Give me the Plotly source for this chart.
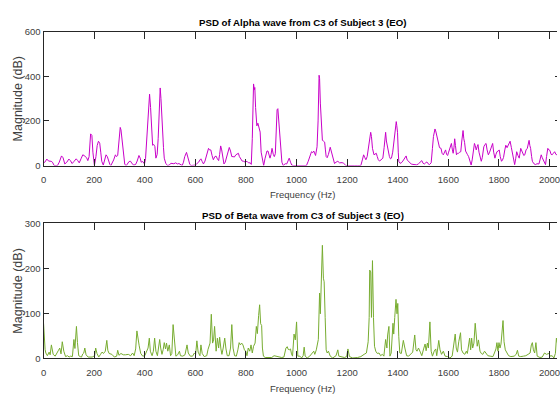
import plotly.graph_objects as go

# ---------------- data ----------------
alpha_freq = [0, 5, 13, 20, 30, 35, 42, 55, 62, 71, 77, 84, 92, 100, 106, 113, 120, 129, 135, 141, 148, 155, 160, 165, 170, 175, 180, 186, 189, 191, 195, 201, 207, 212, 217, 222, 226, 230, 236, 241, 247, 252, 257, 262, 266, 271, 277, 284, 288, 293, 298, 303, 306, 310, 314, 318, 321, 327, 333, 338, 344, 350, 357, 364, 370, 377, 382, 386, 392, 399, 403, 408, 413, 419, 423, 427, 431, 435, 440, 444, 449, 453, 457, 461, 464, 467, 470, 474, 477, 483, 490, 497, 503, 509, 515, 522, 529, 535, 542, 548, 553, 558, 565, 569, 574, 578, 583, 590, 600, 607, 613, 618, 622, 627, 632, 638, 643, 648, 652, 656, 661, 666, 671, 677, 682, 687, 692, 696, 700, 704, 708, 713, 718, 723, 729, 734, 739, 744, 749, 754, 760, 765, 770, 774, 779, 785, 791, 797, 804, 810, 817, 821, 825, 830, 833, 835, 838, 843, 847, 852, 856, 860, 865, 870, 875, 879, 883, 887, 891, 895, 899, 903, 908, 912, 916, 920, 923, 926, 930, 934, 938, 942, 947, 955, 961, 966, 971, 976, 981, 987, 1000, 1013, 1026, 1039, 1046, 1052, 1059, 1064, 1068, 1075, 1081, 1085, 1089, 1091, 1094, 1098, 1102, 1106, 1111, 1114, 1117, 1121, 1126, 1133, 1137, 1141, 1145, 1150, 1156, 1163, 1170, 1176, 1180, 1186, 1195, 1205, 1220, 1230, 1240, 1254, 1260, 1265, 1270, 1274, 1279, 1284, 1288, 1293, 1296, 1300, 1306, 1310, 1315, 1319, 1323, 1328, 1335, 1341, 1346, 1350, 1352, 1355, 1358, 1362, 1367, 1371, 1375, 1380, 1384, 1389, 1394, 1396, 1399, 1402, 1404, 1409, 1414, 1420, 1427, 1433, 1437, 1440, 1447, 1453, 1460, 1469, 1475, 1482, 1488, 1495, 1500, 1505, 1510, 1515, 1520, 1525, 1532, 1535, 1537, 1541, 1547, 1550, 1554, 1557, 1560, 1565, 1571, 1575, 1580, 1585, 1589, 1593, 1597, 1601, 1606, 1610, 1612, 1616, 1619, 1622, 1625, 1628, 1632, 1636, 1640, 1645, 1649, 1653, 1658, 1661, 1664, 1668, 1671, 1675, 1680, 1684, 1687, 1690, 1694, 1698, 1703, 1706, 1710, 1714, 1717, 1721, 1725, 1730, 1734, 1740, 1745, 1749, 1753, 1758, 1763, 1769, 1772, 1775, 1779, 1784, 1788, 1792, 1797, 1801, 1805, 1810, 1814, 1818, 1823, 1827, 1832, 1836, 1840, 1844, 1849, 1853, 1858, 1862, 1866, 1870, 1875, 1880, 1886, 1890, 1894, 1898, 1902, 1907, 1912, 1916, 1919, 1922, 1925, 1929, 1932, 1938, 1945, 1950, 1958, 1962, 1967, 1971, 1975, 1980, 1984, 1988, 1993, 1997, 2001, 2006, 2010, 2015, 2020, 2025, 2029]
alpha_mag = [12, 15, 29, 20, 19, 15, 0, 0, 15, 43, 35, 7, 15, 29, 22, 9, 18, 30, 22, 12, 30, 48, 45, 40, 35, 22, 40, 142, 138, 135, 60, 0, 40, 90, 109, 100, 60, 19, 2, 25, 48, 40, 20, 5, 0, 10, 25, 48, 40, 45, 110, 171, 160, 110, 70, 20, 5, 0, 10, 18, 19, 8, 2, 5, 20, 45, 33, 15, 18, 7, 30, 135, 230, 320, 260, 160, 91, 95, 85, 33, 50, 120, 250, 348, 300, 220, 150, 80, 33, 10, 0, 2, 10, 10, 8, 12, 7, 9, 3, 0, 15, 40, 59, 42, 20, 5, 0, 0, 2, 10, 15, 25, 30, 18, 7, 20, 40, 70, 77, 70, 70, 45, 26, 40, 42, 30, 22, 50, 88, 70, 40, 7, 15, 33, 60, 81, 65, 40, 40, 38, 48, 52, 55, 40, 30, 20, 19, 15, 19, 12, 12, 5, 120, 366, 340, 350, 260, 178, 190, 170, 150, 60, 30, 0, 30, 55, 65, 65, 45, 33, 50, 77, 50, 40, 53, 190, 250, 255, 200, 120, 50, 15, 0, 8, 7, 20, 33, 15, 2, 0, 0, 0, 0, 0, 19, 40, 62, 58, 65, 45, 84, 200, 405, 390, 280, 160, 113, 110, 105, 70, 40, 35, 50, 82, 65, 40, 20, 9, 15, 19, 12, 13, 13, 10, 0, 0, 2, 0, 0, 0, 25, 48, 35, 26, 40, 77, 110, 149, 130, 77, 48, 50, 55, 40, 26, 20, 25, 33, 80, 130, 149, 110, 91, 60, 40, 30, 33, 60, 104, 150, 197, 180, 149, 60, 19, 10, 12, 20, 30, 43, 25, 22, 12, 7, 5, 4, 3, 8, 15, 22, 10, 7, 12, 16, 8, 4, 12, 40, 77, 130, 164, 155, 135, 110, 91, 80, 77, 55, 48, 65, 70, 50, 45, 60, 77, 95, 99, 70, 55, 80, 120, 90, 48, 55, 55, 60, 62, 110, 157, 120, 104, 65, 55, 50, 40, 26, 10, 2, 25, 60, 99, 90, 70, 85, 94, 60, 40, 19, 35, 84, 95, 99, 70, 48, 60, 77, 90, 99, 60, 33, 50, 62, 65, 70, 40, 19, 25, 36, 70, 91, 80, 88, 100, 109, 80, 55, 20, 4, 30, 62, 45, 33, 77, 65, 50, 45, 48, 70, 77, 100, 113, 90, 77, 40, 19, 8, 4, 8, 7, 25, 48, 35, 26, 15, 4, 40, 77, 70, 68, 50, 48, 55, 62, 50, 48]

beta_freq = [0, 3, 6, 9, 15, 22, 26, 31, 35, 38, 46, 52, 59, 64, 69, 74, 77, 80, 87, 95, 101, 107, 114, 120, 124, 130, 134, 139, 145, 150, 155, 159, 163, 168, 176, 185, 192, 202, 206, 211, 218, 224, 231, 237, 244, 250, 254, 259, 264, 270, 280, 289, 293, 298, 306, 315, 324, 335, 344, 352, 358, 364, 369, 372, 374, 378, 384, 392, 400, 407, 413, 418, 422, 429, 434, 439, 444, 450, 455, 459, 463, 468, 473, 477, 482, 486, 491, 497, 502, 507, 512, 517, 523, 530, 537, 541, 550, 559, 567, 572, 580, 589, 596, 601, 606, 611, 618, 622, 627, 635, 645, 650, 654, 658, 663, 668, 672, 676, 682, 687, 692, 696, 701, 705, 710, 716, 721, 726, 733, 739, 744, 749, 755, 762, 768, 773, 778, 783, 788, 794, 799, 804, 809, 815, 820, 825, 830, 836, 841, 845, 850, 854, 858, 862, 865, 869, 876, 889, 902, 911, 919, 928, 941, 950, 958, 963, 967, 971, 976, 980, 984, 990, 995, 1000, 1005, 1013, 1020, 1026, 1030, 1034, 1042, 1052, 1061, 1068, 1072, 1078, 1086, 1091, 1094, 1098, 1102, 1106, 1109, 1113, 1117, 1121, 1126, 1133, 1143, 1156, 1163, 1167, 1176, 1189, 1198, 1203, 1209, 1222, 1241, 1254, 1267, 1276, 1283, 1287, 1289, 1293, 1296, 1300, 1304, 1308, 1313, 1319, 1326, 1332, 1339, 1345, 1352, 1357, 1360, 1365, 1369, 1374, 1381, 1384, 1388, 1393, 1397, 1400, 1404, 1408, 1414, 1422, 1428, 1435, 1443, 1451, 1459, 1467, 1472, 1476, 1482, 1489, 1495, 1502, 1508, 1512, 1517, 1521, 1527, 1532, 1537, 1544, 1550, 1554, 1562, 1567, 1573, 1580, 1587, 1597, 1606, 1615, 1623, 1627, 1631, 1636, 1641, 1648, 1652, 1658, 1665, 1671, 1675, 1680, 1684, 1688, 1692, 1696, 1701, 1706, 1710, 1714, 1719, 1725, 1730, 1736, 1743, 1749, 1756, 1765, 1776, 1782, 1788, 1792, 1796, 1800, 1804, 1808, 1813, 1816, 1820, 1825, 1832, 1838, 1847, 1860, 1868, 1873, 1878, 1886, 1897, 1906, 1915, 1923, 1928, 1932, 1936, 1941, 1946, 1951, 1962, 1971, 1980, 1988, 1997, 2003, 2010, 2017, 2023, 2027, 2030]
beta_mag = [78, 40, 20, 12, 6, 14, 8, 30, 15, 9, 5, 10, 18, 23, 10, 37, 25, 16, 4, 6, 3, 5, 4, 42, 22, 71, 35, 6, 4, 3, 10, 12, 23, 8, 3, 3, 3, 6, 23, 11, 3, 8, 14, 11, 16, 40, 18, 11, 10, 9, 3, 5, 18, 7, 11, 8, 8, 9, 6, 12, 6, 21, 61, 45, 41, 28, 11, 5, 6, 18, 23, 45, 16, 6, 16, 45, 16, 6, 23, 42, 23, 9, 20, 35, 21, 34, 16, 30, 6, 11, 75, 34, 5, 8, 16, 6, 5, 8, 30, 12, 5, 5, 12, 9, 39, 14, 6, 30, 11, 4, 6, 20, 30, 34, 98, 34, 41, 71, 16, 45, 23, 47, 21, 9, 23, 45, 21, 6, 6, 23, 75, 23, 6, 5, 19, 35, 30, 34, 30, 19, 16, 6, 23, 16, 30, 12, 27, 34, 71, 55, 95, 119, 77, 73, 23, 5, 2, 2, 2, 6, 5, 3, 2, 3, 23, 26, 20, 19, 21, 10, 5, 54, 41, 81, 5, 5, 1, 6, 25, 5, 1, 5, 11, 16, 9, 19, 42, 145, 99, 167, 251, 178, 170, 91, 19, 12, 16, 5, 1, 6, 19, 5, 4, 2, 4, 21, 4, 1, 2, 4, 9, 12, 37, 91, 196, 192, 91, 217, 91, 27, 16, 11, 12, 6, 9, 5, 42, 23, 52, 71, 5, 12, 78, 54, 91, 131, 99, 122, 48, 12, 11, 40, 23, 6, 5, 9, 14, 52, 19, 16, 23, 14, 6, 21, 32, 17, 34, 23, 81, 16, 5, 16, 21, 6, 40, 19, 9, 16, 5, 4, 1, 5, 34, 54, 23, 14, 37, 57, 19, 12, 9, 16, 11, 27, 45, 19, 45, 23, 34, 78, 45, 27, 41, 16, 11, 9, 16, 12, 6, 5, 4, 12, 21, 35, 16, 35, 23, 32, 66, 84, 37, 19, 12, 6, 4, 5, 9, 18, 5, 4, 5, 6, 9, 12, 30, 35, 19, 12, 35, 5, 2, 3, 12, 9, 11, 5, 6, 1, 11, 45, 35]

x_ticks = [0, 200, 400, 600, 800, 1000, 1200, 1400, 1600, 1800, 2000]
alpha_ticks = [0, 200, 400, 600]
beta_ticks = [0, 100, 200, 300]

title_alpha = "PSD of Alpha wave from C3 of Subject 3 (EO)"
title_beta = "PSD of Beta wave from C3 of Subject 3 (EO)"
x_label = "Frequency (Hz)"
y_label = "Magnitude (dB)"

# ---------------- figure ----------------
W, H = 560, 403
FONT = "Liberation Sans, Arial, Helvetica, sans-serif"
AX = "#262626"
TICKC = "#404040"

left = 41 / W
top_dom = [1 - 164 / H, 1 - 26.5 / H]
bot_dom = [1 - 362.3 / H, 1 - 223.3 / H]
x_end = (W - 41) / ((552.5 - 41) / 2000)

fig = go.Figure()
fig.add_trace(go.Scatter(x=alpha_freq, y=alpha_mag, mode="lines",
                         line=dict(color="#C800C8", width=1),
                         xaxis="x", yaxis="y", showlegend=False))
fig.add_trace(go.Scatter(x=beta_freq, y=beta_mag, mode="lines",
                         line=dict(color="#77AC30", width=1),
                         xaxis="x2", yaxis="y2", showlegend=False))
# placeholders so the right-side tick axes are drawn
fig.add_trace(go.Scatter(x=[], y=[], xaxis="x", yaxis="y3", showlegend=False, hoverinfo="skip"))
fig.add_trace(go.Scatter(x=[], y=[], xaxis="x2", yaxis="y4", showlegend=False, hoverinfo="skip"))

xcommon = dict(range=[0, x_end], tickvals=x_ticks, ticks="inside", ticklen=7,
               tickcolor=AX, showline=True, linecolor=AX, linewidth=1,
               mirror="ticks", showgrid=False, zeroline=False,
               ticklabelstandoff=5, ticklabeloverflow="allow",
               tickfont=dict(family=FONT, size=9.5, color=TICKC),
               domain=[left, 1])
ycommon = dict(ticks="inside", ticklen=5, tickcolor=AX, showline=True,
               linecolor=AX, linewidth=1, showgrid=False, zeroline=False,
               tickfont=dict(family=FONT, size=9.5, color=TICKC))

fig.update_layout(
    width=W, height=H,
    margin=dict(l=0, r=0, t=0, b=0),
    paper_bgcolor="white", plot_bgcolor="white",
    showlegend=False,
    xaxis=dict(anchor="y", **xcommon),
    yaxis=dict(anchor="x", domain=top_dom, range=[0, 600], tickvals=alpha_ticks, **ycommon),
    xaxis2=dict(anchor="y2", **xcommon),
    yaxis2=dict(anchor="x2", domain=bot_dom, range=[0, 300], tickvals=beta_ticks, **ycommon),
    yaxis3=dict(overlaying="y", side="right", anchor="free", position=1,
                range=[0, 600], tickvals=alpha_ticks, ticks="inside", ticklen=2,
                tickcolor=AX, showticklabels=False, showline=False,
                showgrid=False, zeroline=False),
    yaxis4=dict(overlaying="y2", side="right", anchor="free", position=1,
                range=[0, 300], tickvals=beta_ticks, ticks="inside", ticklen=2,
                tickcolor=AX, showticklabels=False, showline=False,
                showgrid=False, zeroline=False),
)

cx = 303 / W
ann = [
    dict(text="<b>%s</b>" % title_alpha, x=cx, y=1 - 17 / H, size=9.7, color="black"),
    dict(text="<b>%s</b>" % title_beta, x=cx, y=1 - 215 / H, size=9.7, color="black"),
    dict(text=x_label, x=cx, y=1 - 194 / H, size=9.5, color=TICKC),
    dict(text=x_label, x=cx, y=1 - 393 / H, size=9.5, color=TICKC),
]
for a in ann:
    fig.add_annotation(text=a["text"], x=a["x"], y=a["y"], xref="paper", yref="paper",
                       xanchor="center", yanchor="middle", showarrow=False,
                       font=dict(family=FONT, size=a["size"], color=a["color"]))
for yc in [1 - 95.2 / H, 1 - 292.8 / H]:
    fig.add_annotation(text=y_label, x=15 / W, y=yc, xref="paper", yref="paper",
                       xanchor="center", yanchor="middle", showarrow=False, textangle=-90,
                       font=dict(family=FONT, size=12.5, color=TICKC))

fig.write_html("out.html",
               config={"displayModeBar": False, "staticPlot": True},
               post_script="document.body.style.margin='0px';document.body.style.overflow='hidden';")
